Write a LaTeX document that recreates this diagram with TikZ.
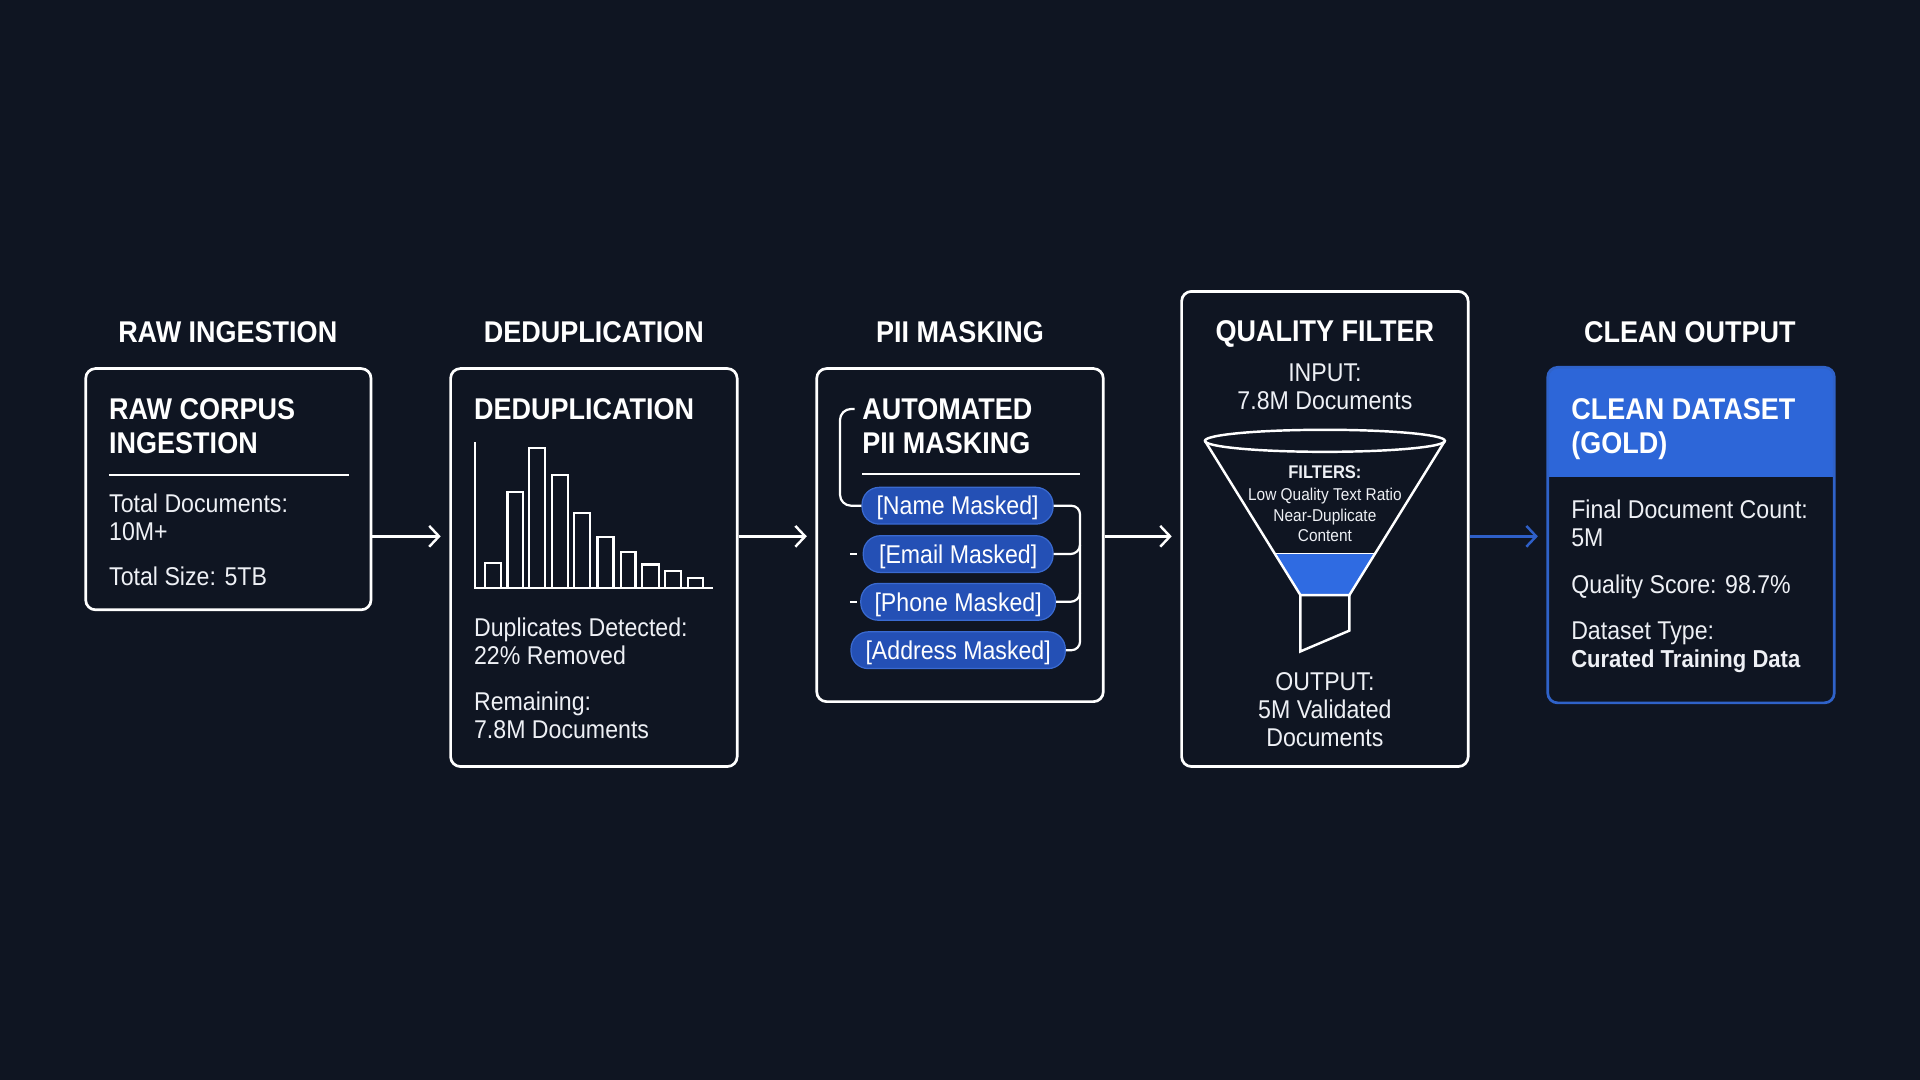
\documentclass[tikz,border=0pt]{standalone}
\usepackage{fontspec}
\setmainfont{Liberation Sans}[FakeStretch=0.9]
\usetikzlibrary{arrows.meta,calc}
\definecolor{bgc}{HTML}{0F1522}
\definecolor{txt}{HTML}{EEF0F5}
\definecolor{hblue}{HTML}{2D66D8}
\definecolor{bblue}{HTML}{2F62C9}
\definecolor{ablue}{HTML}{2E5FC8}
\definecolor{pblue}{HTML}{2450B5}
\definecolor{pedge}{HTML}{3A6AD0}
\definecolor{fblue}{HTML}{2F6BE2}
\tikzset{
  stagebox/.style={draw=white, line width=2.2pt, rounded corners=8pt, inner sep=0pt},
  ttl/.style={font=\fontsize{24.5}{27}\selectfont\bfseries, text=white, anchor=base, inner sep=0pt},
  hdr/.style={font=\fontsize{24.5}{27}\selectfont\bfseries, text=white, anchor=base west, inner sep=0pt},
  body/.style={font=\fontsize{21}{23}\selectfont, text=txt, anchor=base west, inner sep=0pt},
  bodyc/.style={font=\fontsize{21}{23}\selectfont, text=txt, anchor=base, inner sep=0pt},
  small/.style={font=\fontsize{14}{16}\selectfont, text=txt, anchor=base, inner sep=0pt},
  sepline/.style={draw=white, line width=2pt},
  thin/.style={draw=white, line width=1.8pt},
  flow/.style={draw=white, line width=2pt, -{Straight Barb[length=8pt,width=17pt,line width=2pt]}, shorten >=7pt},
  pill/.style={fill=pblue, draw=pedge, line width=1pt, rounded corners=14pt, minimum height=30pt, text=white, inner sep=0pt, text height=15pt, text depth=0pt, font=\fontsize{21}{23}\selectfont},
}
\begin{document}
\begin{tikzpicture}[x=1pt,y=-1pt]
\fill[bgc] (0,0) rectangle (1568,882);
\useasboundingbox (0,0) rectangle (1568,882);

% stage titles
\node[ttl] (t1) at (186,280) {RAW INGESTION};
\node[ttl] (t2) at (485,280) {DEDUPLICATION};
\node[ttl] (t3) at (784,280) {PII MASKING};
\node[ttl] (t5) at (1380,280) {CLEAN OUTPUT};

% boxes
\node[stagebox, minimum width=233pt, minimum height=197pt] (b1) at (186.5,399.5) {};
\node[stagebox, minimum width=234pt, minimum height=325pt] (b2) at (485,463.5) {};
\node[stagebox, minimum width=234pt, minimum height=272pt] (b3) at (784,437) {};
\node[stagebox, minimum width=234pt, minimum height=388pt] (b4) at (1082,432) {};

% box 5 with blue header
\begin{scope}
\clip (1264,300) rectangle (1498,389);
\fill[hblue, rounded corners=8pt] (1264,300) rectangle (1498,480);
\end{scope}
\node[stagebox, draw=bblue, minimum width=234pt, minimum height=274pt] (b5) at (1381,437) {};

% arrows
\coordinate (ay) at (0,438);
\draw[flow] (b1.east |- ay) -- (b2.west |- ay);
\draw[flow] (b2.east |- ay) -- (b3.west |- ay);
\draw[flow] (b3.east |- ay) -- (b4.west |- ay);
\draw[flow, draw=ablue] (b4.east |- ay) -- (b5.west |- ay);

% box 1 content
\node[hdr] (h1a) at (89,343) {RAW CORPUS};
\node[hdr] (h1b) at (89,370) {INGESTION};
\draw[sepline] (89,388) -- (285,388);
\node[body] (l1a) at (89,418.5) {Total Documents:};
\node[body] (l1b) at (89,441.5) {10M+};
\node[body] (l1c) at (89,478.5) {Total Size: 5TB};

% box 2 content
\node[hdr] (h2a) at (387,343) {DEDUPLICATION};
\draw[thin] (388,361) -- (388,480) -- (582,480);
\foreach \xa/\xb/\yt in {396/409/460, 414.5/427/401.5, 432/445/366, 451/464/388, 469/482/419, 488/501/438.5, 507/519/451, 524/538/461, 543/556/466, 562/574/472}{
  \draw[thin] (\xa,480) -- (\xa,\yt) -- (\xb,\yt) -- (\xb,480);
}
\node[body] (l2a) at (387,519.5) {Duplicates Detected:};
\node[body] (l2b) at (387,542.5) {22\% Removed};
\node[body] (l2c) at (387,580.5) {Remaining:};
\node[body] (l2d) at (387,603.5) {7.8M Documents};

% box 3 content
\node[hdr] (h3a) at (704,343) {AUTOMATED};
\node[hdr] (h3b) at (704,370) {PII MASKING};
\draw[sepline] (704,387) -- (882,387);
\node[pill, minimum width=156pt] (pn) at (782,413) {[Name Masked]};
\node[pill, minimum width=155pt] (pe) at (782.5,452.5) {[Email Masked]};
\node[pill, minimum width=159pt] (pp) at (782.5,491.5) {[Phone Masked]};
\node[pill, minimum width=175pt] (pa) at (782.5,531) {[Address Masked]};
\draw[thin, rounded corners=9pt] (698,334) -- (686,334) -- (686,413) -- (pn.west);
\draw[thin, rounded corners=7pt] (pn.east) -- (882,413) -- (882,531) -- (pa.east);
\draw[thin] (pe.east) -- (874,452.5) to[out=0,in=-90] (882,445);
\draw[thin] (pp.east) -- (874,491.5) to[out=0,in=-90] (882,484);
\draw[thin] (694,452.5) -- (700,452.5);
\draw[thin] (694,491.5) -- (700,491.5);

% box 4 content
\node[ttl] (t4) at (1082,279) {QUALITY FILTER};
\node[bodyc] (l4a) at (1082,311.5) {INPUT:};
\node[bodyc] (l4b) at (1082,334.5) {7.8M Documents};
\fill[fblue] (1041,452) -- (1123,452) -- (1102,486) -- (1062,486) -- cycle;
\draw[thin, line width=2pt] (1082,360) ellipse [x radius=98, y radius=9];
\draw[thin, line width=2pt] (984,360) -- (1062,486) -- (1102,486) -- (1180,360);
\draw[thin, line width=1.2pt] (1041,452) -- (1123,452);
\draw[thin, line width=2pt] (1062,486) -- (1062,532) -- (1102,515) -- (1102,486);
\node[small, font=\fontsize{15}{16}\selectfont\bfseries] (f1) at (1082,391) {FILTERS:};
\node[small] (f2) at (1082,409) {Low Quality Text Ratio};
\node[small] (f3) at (1082,426) {Near-Duplicate};
\node[small] (f4) at (1082,442) {Content};
\node[bodyc] (l4c) at (1082,563.5) {OUTPUT:};
\node[bodyc] (l4d) at (1082,586.5) {5M Validated};
\node[bodyc] (l4e) at (1082,609.5) {Documents};

% box 5 content
\node[hdr] (h5a) at (1283,343) {CLEAN DATASET};
\node[hdr] (h5b) at (1283,370) {(GOLD)};
\node[body] (l5a) at (1283,423.5) {Final Document Count:};
\node[body] (l5b) at (1283,446.5) {5M};
\node[body] (l5c) at (1283,484.5) {Quality Score: 98.7\%};
\node[body] (l5d) at (1283,522.5) {Dataset Type:};
\node[body, font=\fontsize{20}{23}\selectfont\bfseries] (l5e) at (1283,545.5) {Curated Training Data};
\end{tikzpicture}
\end{document}
